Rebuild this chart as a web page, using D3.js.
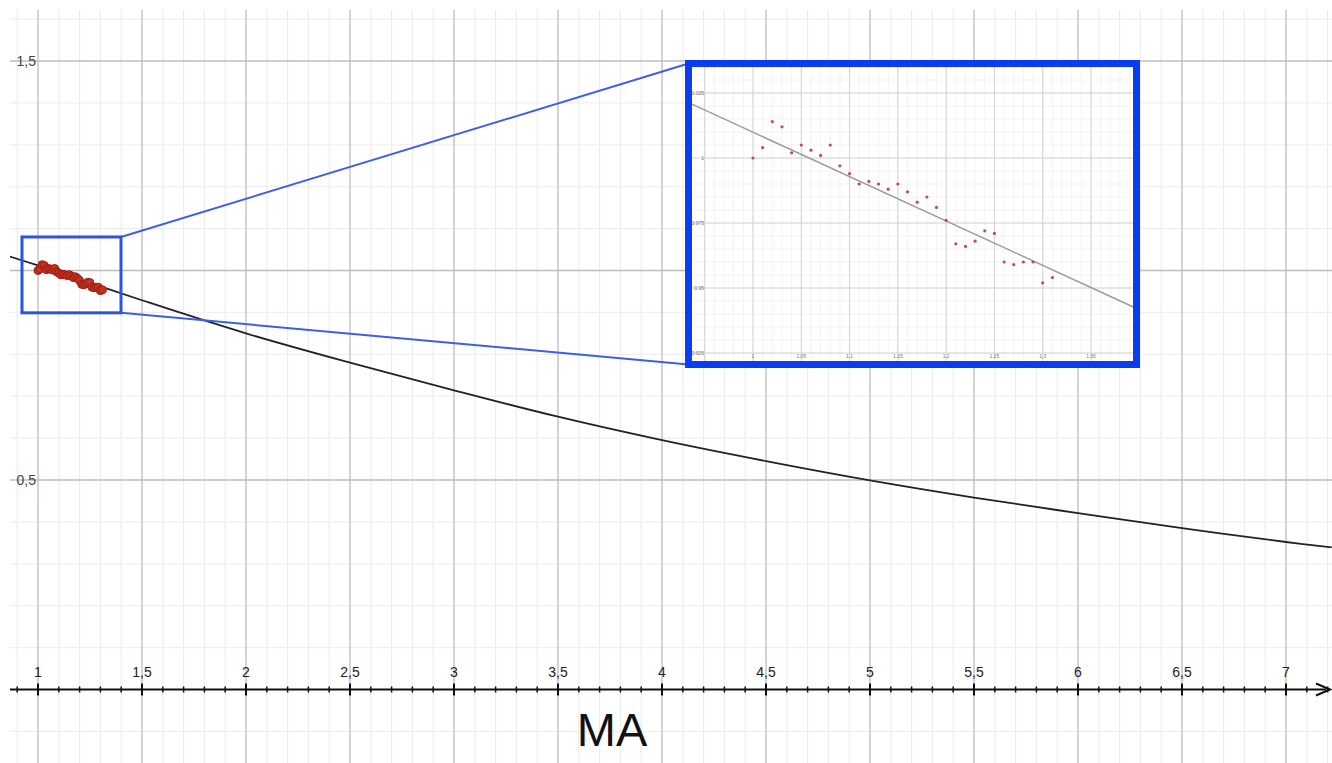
<!DOCTYPE html>
<html>
<head>
<meta charset="utf-8">
<script src="https://cdn.jsdelivr.net/npm/d3@7"></script>
<style>
  html, body { margin: 0; padding: 0; background: #fff; }
  svg { display: block; font-family: "Liberation Sans", Arial, sans-serif; }
</style>
</head>
<body>
<svg id="chart" width="1332" height="763"></svg>
<script>
// main curve (MA, value)
const curveMA = [0.86, 1.0, 1.5, 2.0, 2.5, 3.0, 3.5, 4.0, 4.5, 5.0, 5.5, 6.0, 6.5, 7.0, 7.22];
const curveVal = [1.034, 1.012, 0.929, 0.850, 0.780, 0.714, 0.651, 0.595, 0.545, 0.499, 0.458, 0.421, 0.385, 0.352, 0.339];

// measured points
const pointMA = [1.00, 1.01, 1.02, 1.03, 1.04, 1.05, 1.06, 1.07, 1.08, 1.09, 1.10, 1.11, 1.12, 1.13, 1.14, 1.15,
                 1.16, 1.17, 1.18, 1.19, 1.20, 1.21, 1.22, 1.23, 1.24, 1.25, 1.26, 1.27, 1.28, 1.29, 1.30, 1.31];
const pointVal = [1.000, 1.004, 1.014, 1.012, 1.002, 1.005, 1.003, 1.001, 1.005, 0.997, 0.994, 0.990, 0.991, 0.990, 0.988, 0.990,
                  0.987, 0.983, 0.985, 0.981, 0.976, 0.967, 0.966, 0.968, 0.972, 0.971, 0.960, 0.959, 0.960, 0.960, 0.952, 0.954];

// trend line in the inset (two ends)
const trendMA = [0.935, 1.395];
const trendVal = [1.021, 0.9425];

// zoomed region shown in the inset
const zoomMA = [0.923, 1.399];
const zoomVal = [0.899, 1.080];

const xTickLabels = [1, 1.5, 2, 2.5, 3, 3.5, 4, 4.5, 5, 5.5, 6, 6.5, 7];
const yTickLabels = [0.5, 1.5];
const insetXLabels = [1, 1.05, 1.1, 1.15, 1.2, 1.25, 1.3, 1.35];
const insetYLabels = [0.925, 0.95, 0.975, 1, 1.025];

const W = 1332, H = 763;
const svg = d3.select('#chart');
const fmt = d3.formatLocale({decimal: ',', thousands: '.', grouping: [3], currency: ['', '']}).format('~g');

const x = d3.scaleLinear().domain([1, 7]).range([38, 1286]);
const y = d3.scaleLinear().domain([0, 1.5]).range([689.5, 61]);

const defs = svg.append('defs');
defs.append('clipPath').attr('id', 'plotClip')
  .append('rect').attr('x', 10).attr('y', 10).attr('width', W - 10).attr('height', H - 10);

const plot = svg.append('g').attr('clip-path', 'url(#plotClip)');

// grid
const gx = d3.range(8, 73).map(i => i / 10);
const gy = d3.range(-2, 18).map(i => i / 10);
const isMajor = v => Math.abs(v * 2 - Math.round(v * 2)) < 1e-6;

plot.selectAll('.vminor').data(gx.filter(v => !isMajor(v))).enter().append('line')
  .attr('x1', d => x(d)).attr('x2', d => x(d)).attr('y1', 10).attr('y2', H)
  .attr('stroke', '#ededed').attr('stroke-width', 1.2);
plot.selectAll('.hminor').data(gy.filter(v => !isMajor(v))).enter().append('line')
  .attr('y1', d => y(d)).attr('y2', d => y(d)).attr('x1', 10).attr('x2', W)
  .attr('stroke', '#efefef').attr('stroke-width', 1.2);
plot.selectAll('.vmajor').data(gx.filter(isMajor)).enter().append('line')
  .attr('x1', d => x(d)).attr('x2', d => x(d)).attr('y1', 10).attr('y2', H)
  .attr('stroke', '#bcbcbc').attr('stroke-width', 1.3);
plot.selectAll('.hmajor').data(gy.filter(v => isMajor(v) && v !== 0)).enter().append('line')
  .attr('y1', d => y(d)).attr('y2', d => y(d)).attr('x1', 10).attr('x2', W)
  .attr('stroke', '#bcbcbc').attr('stroke-width', 1.3);

// x axis with arrow
const axisY = y(0);
plot.append('line').attr('x1', 10).attr('x2', 1326).attr('y1', axisY).attr('y2', axisY)
  .attr('stroke', '#111').attr('stroke-width', 2);
plot.append('path')
  .attr('d', `M1316,${axisY - 6} L1330,${axisY} L1316,${axisY + 6}`)
  .attr('fill', 'none').attr('stroke', '#111').attr('stroke-width', 2);
plot.selectAll('.tick').data(gx.filter(v => v >= 0.9)).enter().append('line')
  .attr('x1', d => x(d)).attr('x2', d => x(d))
  .attr('y1', d => axisY - (isMajor(d) ? 6 : 3)).attr('y2', d => axisY + (isMajor(d) ? 6 : 3))
  .attr('stroke', '#111').attr('stroke-width', d => isMajor(d) ? 2 : 1.5);

svg.selectAll('.xlab').data(xTickLabels).enter().append('text')
  .attr('x', d => x(d)).attr('y', axisY - 13)
  .attr('text-anchor', 'middle').attr('font-size', 14).attr('fill', '#222')
  .text(d => fmt(d));
svg.selectAll('.ylab').data(yTickLabels).enter().append('text')
  .attr('x', 36).attr('y', d => y(d) + 5)
  .attr('text-anchor', 'end').attr('font-size', 14).attr('fill', '#444')
  .text(d => fmt(d));

svg.append('text').attr('x', 612).attr('y', 746)
  .attr('text-anchor', 'middle').attr('font-size', 47).attr('fill', '#111')
  .text('MA');

// curve
const curve = d3.range(curveMA.length).map(i => [curveMA[i], curveVal[i]]);
plot.append('path').datum(curve)
  .attr('d', d3.line().x(d => x(d[0])).y(d => y(d[1])).curve(d3.curveCatmullRom))
  .attr('fill', 'none').attr('stroke', '#222').attr('stroke-width', 1.8);

// points
const pts = d3.range(pointMA.length).map(i => [pointMA[i], pointVal[i]]);
plot.selectAll('.pt').data(pts).enter().append('circle')
  .attr('cx', d => x(d[0])).attr('cy', d => y(d[1])).attr('r', 4)
  .attr('fill', '#c8301f').attr('stroke', '#9a1e12').attr('stroke-width', 1);

// zoom box and leader lines
const bx0 = x(zoomMA[0]), bx1 = x(zoomMA[1]), by0 = y(zoomVal[1]), by1 = y(zoomVal[0]);
const inset = {x0: 688.5, y0: 63.5, x1: 1136.5, y1: 364.5};

svg.append('line').attr('x1', bx1).attr('y1', by0).attr('x2', inset.x0).attr('y2', inset.y0)
  .attr('stroke', '#3d5fe6').attr('stroke-width', 2);
svg.append('line').attr('x1', bx1).attr('y1', by1).attr('x2', inset.x0).attr('y2', inset.y1)
  .attr('stroke', '#3d5fe6').attr('stroke-width', 2);
svg.append('rect').attr('x', bx0).attr('y', by0).attr('width', bx1 - bx0).attr('height', by1 - by0)
  .attr('fill', 'none').attr('stroke', '#2d52e6').attr('stroke-width', 3);

// inset chart
const ix = d3.scaleLinear().domain([1, 1.35]).range([753, 1091]);
const iy = d3.scaleLinear().domain([0.925, 1.025]).range([353, 93]);

defs.append('clipPath').attr('id', 'insetClip')
  .append('rect').attr('x', inset.x0).attr('y', inset.y0)
  .attr('width', inset.x1 - inset.x0).attr('height', inset.y1 - inset.y0);

const ig = svg.append('g').attr('clip-path', 'url(#insetClip)');
ig.append('rect').attr('x', inset.x0).attr('y', inset.y0)
  .attr('width', inset.x1 - inset.x0).attr('height', inset.y1 - inset.y0).attr('fill', '#fff');

const igx = d3.range(90, 141).map(i => i / 100);
const igy = d3.range(180, 212).map(i => i / 200);
const igxMajor = d3.range(18, 29).map(i => i / 20);
ig.selectAll('.ivm').data(igx).enter().append('line')
  .attr('x1', d => ix(d)).attr('x2', d => ix(d)).attr('y1', inset.y0).attr('y2', inset.y1)
  .attr('stroke', '#f0f0f0').attr('stroke-width', 0.8);
ig.selectAll('.ihm').data(igy).enter().append('line')
  .attr('y1', d => iy(d)).attr('y2', d => iy(d)).attr('x1', inset.x0).attr('x2', inset.x1)
  .attr('stroke', '#f0f0f0').attr('stroke-width', 0.8);
ig.selectAll('.ivM').data(igxMajor).enter().append('line')
  .attr('x1', d => ix(d)).attr('x2', d => ix(d)).attr('y1', inset.y0).attr('y2', inset.y1)
  .attr('stroke', '#d4d4d4').attr('stroke-width', 1);
ig.selectAll('.ihM').data(insetYLabels).enter().append('line')
  .attr('y1', d => iy(d)).attr('y2', d => iy(d)).attr('x1', inset.x0).attr('x2', inset.x1)
  .attr('stroke', '#d4d4d4').attr('stroke-width', 1);

ig.selectAll('.ixl').data(insetXLabels).enter().append('text')
  .attr('x', d => ix(d)).attr('y', iy(0.925) + 5)
  .attr('text-anchor', 'middle').attr('font-size', 5).attr('fill', '#777')
  .text(d => d);
ig.selectAll('.iyl').data(insetYLabels).enter().append('text')
  .attr('x', 704).attr('y', d => iy(d) + 2)
  .attr('text-anchor', 'end').attr('font-size', 5).attr('fill', '#777')
  .text(d => d);

const trend = d3.range(trendMA.length).map(i => [trendMA[i], trendVal[i]]);
ig.append('path').datum(trend)
  .attr('d', d3.line().x(d => ix(d[0])).y(d => iy(d[1])))
  .attr('stroke', '#9a9a9a').attr('stroke-width', 1.4).attr('fill', 'none');

ig.selectAll('.ipt').data(pts).enter().append('circle')
  .attr('cx', d => ix(d[0])).attr('cy', d => iy(d[1])).attr('r', 1.6)
  .attr('fill', '#c94a4a');

svg.append('rect').attr('x', inset.x0).attr('y', inset.y0)
  .attr('width', inset.x1 - inset.x0).attr('height', inset.y1 - inset.y0)
  .attr('fill', 'none').attr('stroke', '#0b3cf0').attr('stroke-width', 7);
</script>
</body>
</html>
